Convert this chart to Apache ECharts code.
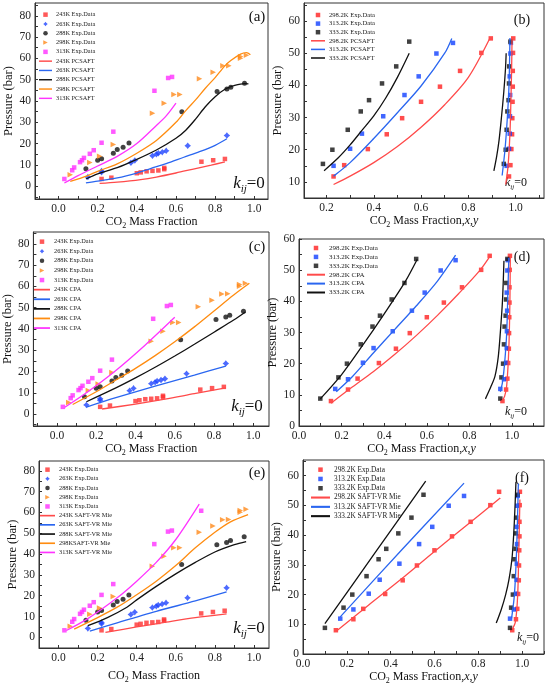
<!DOCTYPE html>
<html>
<head>
<meta charset="utf-8">
<script src="https://cdn.jsdelivr.net/npm/echarts@6/dist/echarts.min.js"></script>
<style>
html, body { margin: 0; padding: 0; background: #fff; }
#main { width: 550px; height: 686px; }
</style>
</head>
<body>
<div id="main"></div>
<script>
// ---------- ticks ----------
const fracLabels = [0.0, 0.2, 0.4, 0.6, 0.8, 1.0];
const fracLabelsB = [0.2, 0.4, 0.6, 0.8, 1.0];
const fracTicks = [-0.1, 0.0, 0.1, 0.2, 0.3, 0.4, 0.5, 0.6, 0.7, 0.8, 0.9, 1.0];
const fracTicksR = [0.0, 0.1, 0.2, 0.3, 0.4, 0.5, 0.6, 0.7, 0.8, 0.9, 1.0, 1.1];
const presLabels80 = [0, 10, 20, 30, 40, 50, 60, 70, 80];
const presTicks80 = [-5, 0, 5, 10, 15, 20, 25, 30, 35, 40, 45, 50, 55, 60, 65, 70, 75, 80, 85];
const presLabels60 = [0, 10, 20, 30, 40, 50, 60];
const presLabelsB = [10, 20, 30, 40, 50, 60];
const presTicks60 = [0, 5, 10, 15, 20, 25, 30, 35, 40, 45, 50, 55, 60, 65];

// ---------- left column: experimental data (x = CO2 mass fraction, P bar) ----------
const exp243 = [[0.22, 3.4], [0.27, 4.0], [0.40, 6.1], [0.42, 6.5], [0.45, 7.0], [0.48, 7.2], [0.51, 7.4], [0.54, 8.0], [0.54, 8.6], [0.73, 11.5], [0.79, 12.2], [0.85, 12.8]];
const exp263 = [[0.15, 4.3], [0.22, 6.5], [0.22, 7.2], [0.37, 11.0], [0.39, 12.1], [0.48, 14.3], [0.50, 15.0], [0.51, 15.5], [0.53, 16.0], [0.55, 16.6], [0.66, 19.0], [0.86, 23.8]];
const exp288 = [[0.14, 8.2], [0.20, 12.2], [0.22, 12.9], [0.28, 15.5], [0.30, 17.2], [0.33, 18.3], [0.36, 20.3], [0.63, 35.0], [0.81, 44.5], [0.86, 45.6], [0.88, 46.5], [0.95, 48.3]];
const exp298 = [[0.06, 5.4], [0.16, 11.1], [0.21, 14.1], [0.28, 19.6], [0.48, 34.2], [0.54, 39.0], [0.59, 43.1], [0.62, 43.0], [0.72, 50.5], [0.79, 53.5], [0.84, 56.5], [0.87, 56.6], [0.93, 60.1], [0.93, 60.9], [0.96, 61.5]];
const exp313 = [[0.03, 3.4], [0.07, 7.5], [0.08, 8.8], [0.11, 11.3], [0.12, 12.2], [0.13, 13.3], [0.16, 15.2], [0.18, 16.9], [0.22, 20.4], [0.28, 25.6], [0.49, 44.8], [0.56, 50.8], [0.58, 51.3]];
const exp313extra = [[0.73, 60.8]];

// PC-SAFT (a)
const pc243 = [[0.21, 1.3], [0.3, 1.9], [0.42, 3.1], [0.5, 4.3], [0.6, 6.2], [0.7, 8.3], [0.78, 9.9], [0.85, 11.4]];
const pc263 = [[0.14, 1.6], [0.2, 2.4], [0.3, 3.9], [0.4, 6.2], [0.47, 8.3], [0.55, 10.6], [0.64, 13.6], [0.72, 16.2], [0.8, 19.2], [0.86, 22.3]];
const pc288 = [[0.14, 3.4], [0.2, 5.8], [0.3, 8.7], [0.4, 12.6], [0.5, 17.0], [0.6, 22.5], [0.65, 26.3], [0.7, 31.5], [0.75, 37.3], [0.8, 42.0], [0.85, 45.5], [0.9, 47.3], [0.95, 48.2], [0.97, 48.0]];
const pc298 = [[0.06, 2.3], [0.15, 5.0], [0.2, 7.0], [0.3, 10.5], [0.4, 15.5], [0.5, 21.5], [0.6, 30.0], [0.65, 35.5], [0.7, 40.5], [0.75, 46.0], [0.8, 51.0], [0.85, 56.5], [0.88, 59.0], [0.93, 62.0], [0.96, 62.7], [0.98, 61.7]];
const pc313 = [[0.03, 1.5], [0.1, 5.0], [0.2, 9.5], [0.3, 14.0], [0.4, 20.0], [0.5, 28.5], [0.55, 33.0], [0.6, 39.0]];

// CPA (c)
const cpa243 = [[0.23, 2.4], [0.4, 4.7], [0.55, 7.0], [0.7, 9.6], [0.86, 12.3]];
const cpa263 = [[0.15, 3.3], [0.3, 7.7], [0.5, 13.2], [0.7, 18.3], [0.86, 22.6]];
const cpa288 = [[0.15, 5.8], [0.3, 12.3], [0.4, 17.0], [0.5, 22.0], [0.6, 27.3], [0.7, 32.8], [0.8, 38.5], [0.9, 44.2], [0.96, 48.0]];
const cpa298 = [[0.08, 4.5], [0.2, 10.5], [0.3, 16.0], [0.4, 21.5], [0.5, 27.5], [0.6, 34.0], [0.7, 41.0], [0.8, 48.5], [0.9, 56.0], [0.98, 61.5]];
const cpa313 = [[0.04, 3.2], [0.15, 10.0], [0.3, 20.5], [0.45, 32.5], [0.6, 45.5]];

// SAFT-VR Mie (e)
const sv243 = [[0.24, 2.4], [0.4, 5.0], [0.55, 7.3], [0.7, 9.5], [0.86, 11.3]];
const sv263 = [[0.16, 3.0], [0.3, 7.0], [0.5, 12.5], [0.7, 17.5], [0.86, 21.8]];
const sv288 = [[0.15, 5.6], [0.25, 9.5], [0.35, 14.5], [0.4, 18.0], [0.5, 24.5], [0.6, 30.5], [0.7, 36.0], [0.8, 41.0], [0.9, 44.5], [0.96, 46.0]];
const sv298 = [[0.08, 4.0], [0.2, 9.5], [0.3, 14.5], [0.4, 20.5], [0.5, 27.0], [0.6, 34.5], [0.7, 43.0], [0.8, 50.5], [0.88, 55.5], [0.97, 59.0]];
const sv313 = [[0.04, 3.3], [0.15, 9.0], [0.3, 19.0], [0.4, 27.0], [0.5, 36.0], [0.6, 47.0], [0.72, 64.0]];

// ---------- right column: experimental data (liquid x, vapour y) ----------
const liq298 = [[0.15, 8.0], [0.23, 11.7], [0.275, 15.2], [0.375, 20.2], [0.455, 24.8], [0.52, 29.8], [0.60, 34.9], [0.68, 39.6], [0.765, 44.5], [0.855, 50.1], [0.895, 54.6]];
const vap298 = [[0.955, 8.0], [0.972, 11.7], [0.978, 15.2], [0.982, 20.2], [0.985, 24.8], [0.986, 29.8], [0.987, 34.9], [0.988, 39.6], [0.988, 44.5], [0.989, 50.1], [0.99, 54.6]];
const liq313 = [[0.17, 11.9], [0.23, 15.0], [0.30, 20.3], [0.35, 25.0], [0.44, 30.4], [0.53, 37.0], [0.59, 42.8], [0.665, 49.9], [0.735, 53.2]];
const vap313 = [[0.945, 11.9], [0.962, 15.0], [0.972, 20.3], [0.975, 25.0], [0.976, 30.4], [0.977, 37.0], [0.975, 42.8], [0.978, 49.9], [0.98, 53.2]];
const liq333 = [[0.10, 8.8], [0.185, 15.6], [0.225, 20.0], [0.29, 26.2], [0.345, 31.9], [0.38, 35.4], [0.435, 40.6], [0.495, 45.9], [0.55, 53.6]];
const vap333 = [[0.945, 8.8], [0.95, 15.6], [0.958, 20.0], [0.962, 26.2], [0.965, 31.9], [0.97, 35.4], [0.972, 40.6], [0.973, 45.9], [0.978, 53.6]];

// PC-SAFT (b)
const pcL298 = [[0.23, 9.2], [0.3, 11.8], [0.4, 16.0], [0.5, 21.0], [0.6, 27.0], [0.7, 34.0], [0.8, 42.5], [0.89, 54.5]];
const pcV298 = [[0.958, 9.2], [0.968, 15.0], [0.976, 25.0], [0.98, 35.0], [0.983, 45.0], [0.985, 55.0]];
const pcL313 = [[0.23, 11.8], [0.3, 16.0], [0.4, 23.5], [0.5, 31.5], [0.6, 39.8], [0.7, 50.0], [0.73, 54.6]];
const pcV313 = [[0.943, 12.0], [0.955, 20.0], [0.965, 30.0], [0.972, 40.0], [0.976, 54.7]];
const pcL333 = [[0.19, 13.5], [0.25, 17.5], [0.3, 21.5], [0.35, 26.0], [0.4, 30.5], [0.45, 36.0], [0.5, 42.5], [0.55, 50.0]];
const pcV333 = [[0.908, 13.4], [0.92, 18.0], [0.93, 23.0], [0.94, 30.0], [0.95, 38.0], [0.957, 45.0], [0.96, 50.0]];

// CPA (d)
const cpaL298 = [[0.15, 7.3], [0.25, 12.5], [0.35, 17.5], [0.45, 23.0], [0.55, 29.0], [0.65, 35.5], [0.75, 42.5], [0.85, 50.0], [0.9, 54.8]];
const cpaV298 = [[0.95, 7.8], [0.965, 9.5], [0.975, 13.0], [0.985, 25.0], [0.99, 40.0], [0.992, 55.0]];
const cpaL313 = [[0.175, 11.0], [0.25, 15.8], [0.35, 23.5], [0.45, 31.0], [0.55, 38.5], [0.65, 46.5], [0.735, 54.8]];
const cpaV313 = [[0.945, 11.0], [0.955, 14.0], [0.965, 20.0], [0.975, 30.0], [0.98, 42.0], [0.985, 54.0]];
const cpaL333 = [[0.1, 8.7], [0.2, 16.5], [0.3, 26.0], [0.4, 36.0], [0.5, 46.5], [0.555, 53.5]];
const cpaV333 = [[0.875, 8.7], [0.9, 12.5], [0.92, 16.0], [0.935, 22.0], [0.945, 30.0], [0.955, 40.0], [0.962, 53.0]];

// SAFT-VR Mie (f)
const svL298 = [[0.15, 7.6], [0.3, 16.5], [0.45, 25.3], [0.6, 34.5], [0.75, 43.5], [0.9, 52.5]];
const svV298 = [[0.955, 8.3], [0.97, 11.0], [0.98, 20.0], [0.985, 35.0], [0.99, 52.0]];
const svL313 = [[0.17, 12.5], [0.45, 35.0], [0.735, 57.5]];
const svV313 = [[0.952, 12.0], [0.965, 20.0], [0.975, 35.0], [0.983, 57.4]];
const svL333 = [[0.1, 10.2], [0.33, 34.2], [0.56, 58.2]];
const svV333 = [[0.882, 10.4], [0.905, 15.0], [0.925, 20.0], [0.94, 25.0], [0.955, 33.0], [0.965, 45.0], [0.972, 58.0]];

const FONT = '"Liberation Serif", "Times New Roman", serif';
const C = { red: '#ff3030', blue: '#1f45ff', black: '#111111', orange: '#ff8a1a', pink: '#ff30ff' };
const L = { red: '#ff4a4a', blue: '#2a66f0', black: '#111111', orange: '#ff8c10', pink: '#ff33ff' };
// 标记形状
const SQ = 'path://M0,0h10v10h-10z';
const STAR = 'path://M5,0L7.2,2.8L10,5L7.2,7.2L5,10L2.8,7.2L0,5L2.8,2.8z';
const TRI = 'path://M0,0L10,5L0,10z';
const BAR = 'path://M0,0h10v1.1h-10z';

// 每个子图的位置
const panels = [
	{ left: 35, top: 3, width: 233, height: 196, xmin: -0.12, xmax: 1.07, ymin: -6, ymax: 86, xl: fracLabels, xt: fracTicks, yl: presLabels80, yt: presTicks80, xGap: 13, yGap: 17 },
	{ left: 304, top: 3, width: 240, height: 195, xmin: 0.105, xmax: 1.12, ymin: 5, ymax: 65.6, xl: fracLabelsB, xt: fracTicksR, yl: presLabelsB, yt: presTicks60, xGap: 13, yGap: 15 },
	{ left: 32, top: 232, width: 237, height: 194, xmin: -0.12, xmax: 1.08, ymin: -5.6, ymax: 85.6, xl: fracLabels, xt: fracTicks, yl: presLabels80, yt: presTicks80, xGap: 13, yGap: 17 },
	{ left: 299, top: 239, width: 245, height: 187, xmin: 0, xmax: 1.15, ymin: 0, ymax: 60, xl: fracLabels, xt: fracTicksR, yl: presLabels60, yt: presTicks60, xGap: 13, yGap: 14 },
	{ left: 39, top: 461, width: 230, height: 187, xmin: -0.1, xmax: 1.077, ymin: -5.1, ymax: 84.7, xl: fracLabels, xt: fracTicks, yl: presLabels80, yt: presTicks80, xGap: 20, yGap: 17 },
	{ left: 303, top: 460, width: 241, height: 194, xmin: 0, xmax: 1.1, ymin: 0, ymax: 65.3, xl: fracLabels, xt: fracTicksR, yl: presLabels60, yt: presTicks60, xGap: 14, yGap: 16 },
];

function sc(name, data, gi, color, symbol, size) {
	return {
		type: 'scatter', name: name, data: data, xAxisIndex: gi, yAxisIndex: gi,
		symbol: symbol, symbolSize: size,
		itemStyle: { color: color }, z: 3, silent: true,
	};
}
function ln(name, data, gi, color) {
	return {
		type: 'line', name: name, data: data, xAxisIndex: gi, yAxisIndex: gi,
		symbol: 'none', smooth: 0.3, itemStyle: { color: color },
		lineStyle: { color: color, width: 1.3 }, z: 4, silent: true,
	};
}

const series = [];
const leftModels = [
	{ gi: 0, tag: 'PCSAFT', d: [pc243, pc263, pc288, pc298, pc313], extra: [] },
	{ gi: 2, tag: 'CPA', d: [cpa243, cpa263, cpa288, cpa298, cpa313], extra: [] },
	{ gi: 4, tag: 'SAFT-VR Mie', d: [sv243, sv263, sv288, sv298, sv313], extra: exp313extra },
];
const leftExpNames = ['243K Exp.Data', '263K Exp.Data', '288K Exp.Data', '298K Exp.Data', '313K Exp.Data'];
const leftExpIcons = [SQ, STAR, 'circle', TRI, SQ];
const leftLineNames = [];
leftModels.forEach((m) => {
	series.push(sc(leftExpNames[0], exp243, m.gi, C.red, SQ, 4.5));
	series.push(sc(leftExpNames[1], exp263, m.gi, C.blue, STAR, 6.5));
	series.push(sc(leftExpNames[2], exp288, m.gi, C.black, 'circle', 5));
	series.push(sc(leftExpNames[3], exp298, m.gi, C.orange, TRI, 5.5));
	series.push(sc(leftExpNames[4], exp313.concat(m.extra), m.gi, C.pink, SQ, 4.5));
	const names = ['243K ' + m.tag, '263K ' + m.tag, '288K ' + m.tag,
		(m.tag === 'SAFT-VR Mie' ? '298K' : '298K ') + m.tag, '313K ' + m.tag];
	const cols = [L.red, L.blue, L.black, L.orange, L.pink];
	names.forEach((n, i) => series.push(ln(n, m.d[i], m.gi, cols[i])));
	leftLineNames.push(names);
});

const rightModels = [
	{ gi: 1, tag: 'PCSAFT', d: [[pcL298, pcV298], [pcL313, pcV313], [pcL333, pcV333]], cut: 1 },
	{ gi: 3, tag: 'CPA', d: [[cpaL298, cpaV298], [cpaL313, cpaV313], [cpaL333, cpaV333]], cut: 0 },
	{ gi: 5, tag: 'SAFT-VR Mie', d: [[svL298, svV298], [svL313, svV313], [svL333, svV333]], cut: 0 },
];
const rightExpNames = ['298.2K Exp.Data', '313.2K Exp.Data', '333.2K Exp.Data'];
const rightLineNames = [];
rightModels.forEach((m) => {
	const k = m.cut;
	series.push(sc(rightExpNames[0], liq298.slice(k).concat(vap298.slice(k)), m.gi, '#ff2020', SQ, 4.5));
	series.push(sc(rightExpNames[1], liq313.slice(k).concat(vap313.slice(k)), m.gi, '#1040ff', SQ, 4.5));
	series.push(sc(rightExpNames[2], liq333.slice(k).concat(vap333.slice(k)), m.gi, '#111', SQ, 4.5));
	const names = ['298.2K ' + m.tag, '313.2K ' + m.tag, '333.2K ' + m.tag];
	const cols = [L.red, L.blue, L.black];
	names.forEach((n, i) => {
		series.push(ln(n, m.d[i][0], m.gi, cols[i]));
		series.push(ln(n, m.d[i][1], m.gi, cols[i]));
	});
	rightLineNames.push(names);
});

function legend(left, top, expNames, expIcons, lineNames, fs, gap, w) {
	const data = expNames.map((n, i) => ({ name: n, icon: expIcons[i] }))
		.concat(lineNames.map((n) => ({ name: n, icon: BAR })));
	return {
		orient: 'vertical', left: left, top: top, padding: 0,
		itemWidth: w, itemHeight: 4.5, itemGap: gap, selectedMode: false, symbolKeepAspect: true,
		textStyle: { fontFamily: FONT, fontSize: fs, color: '#222', lineHeight: fs, padding: [0, 0, 0, -1] },
		data: data,
	};
}

const rIcons = [SQ, SQ, SQ];
const legends = [
	legend(39, 11.5, leftExpNames, leftExpIcons, leftLineNames[0], 6.3, 3.0, 13),
	legend(311, 11.5, rightExpNames, rIcons, rightLineNames[0], 6.6, 1.6, 14),
	legend(34, 238.5, leftExpNames, leftExpIcons, leftLineNames[1], 6.3, 3.3, 16),
	legend(307, 244.5, rightExpNames, rIcons, rightLineNames[1], 7, 1.9, 18),
	legend(40, 466.5, leftExpNames, leftExpIcons, leftLineNames[2], 6.3, 2.9, 15),
	legend(311, 466, rightExpNames, rIcons, rightLineNames[2], 7.3, 2.0, 19),
];

const xNameLeft = '{a|CO}{s|2}{a| Mass Fraction}';
const xNameRight = '{a|CO}{s|2}{a| Mass Fraction,}{i|x}{a|,}{i|y}';
const nameRich = {
	a: { fontFamily: FONT, fontSize: 12, lineHeight: 16, color: '#111' },
	i: { fontFamily: FONT, fontSize: 12, lineHeight: 16, color: '#111', fontStyle: 'italic' },
	s: { fontFamily: FONT, fontSize: 8, lineHeight: 10, color: '#111', verticalAlign: 'bottom' },
};

const grids = [], xAxes = [], yAxes = [];
panels.forEach((p, i) => {
	grids.push({ left: p.left, top: p.top, width: p.width, height: p.height, show: true, borderColor: '#333', borderWidth: 1, containLabel: false });
	xAxes.push({
		type: 'value', gridIndex: i, min: p.xmin, max: p.xmax,
		name: i % 2 === 0 ? xNameLeft : xNameRight, nameLocation: 'middle', nameGap: p.xGap,
		nameTextStyle: { rich: nameRich },
		axisLine: { show: true, onZero: false, lineStyle: { color: '#333', width: 1 } },
		axisTick: { show: true, inside: true, length: 3, customValues: p.xt, lineStyle: { color: '#333' } },
		axisLabel: { customValues: p.xl, margin: 4, fontFamily: FONT, fontSize: 11.5, color: '#222', formatter: (v) => v.toFixed(1) },
		splitLine: { show: false },
	});
	yAxes.push({
		type: 'value', gridIndex: i, min: p.ymin, max: p.ymax,
		name: 'Pressure (bar)', nameLocation: 'middle', nameGap: p.yGap, nameRotate: 90,
		nameTextStyle: { fontFamily: FONT, fontSize: 12.5, color: '#111' },
		axisLine: { show: true, onZero: false, lineStyle: { color: '#333', width: 1 } },
		axisTick: { show: true, inside: true, length: 3, customValues: p.yt, lineStyle: { color: '#333' } },
		axisLabel: { customValues: p.yl, margin: 4, fontFamily: FONT, fontSize: 11.5, color: '#222' },
		splitLine: { show: false },
	});
});

// 子图编号和 kij=0
const tags = [['(a)', 257, 17, 15], ['(b)', 522, 20, 14], ['(c)', 257, 247, 15], ['(d)', 522, 257, 14], ['(e)', 257, 473, 15], ['(f)', 522, 478, 14]];
const kij = [[249, 184, 17], [516, 183, 12], [247, 407, 17], [516, 412, 12], [249, 629, 17], [528, 638, 12]];
const graphic = [];
tags.forEach((t) => {
	graphic.push({ type: 'text', x: t[1], y: t[2], silent: true,
		style: { text: t[0], fontFamily: FONT, fontSize: t[3], fill: '#111', align: 'center', verticalAlign: 'middle' } });
});
kij.forEach((k) => {
	const f = k[2];
	graphic.push({ type: 'text', x: k[0], y: k[1], silent: true,
		style: {
			text: '{k|k}{s|ij}{n|=0}', align: 'center', verticalAlign: 'middle',
			rich: {
				k: { fontFamily: FONT, fontSize: f, fontStyle: 'italic', lineHeight: f + 4, verticalAlign: 'middle', fill: '#111' },
				s: { fontFamily: FONT, fontSize: Math.round(f * 0.62), fontStyle: 'italic', lineHeight: Math.round(f * 0.62), verticalAlign: 'bottom', fill: '#111' },
				n: { fontFamily: FONT, fontSize: f, lineHeight: f + 4, verticalAlign: 'middle', fill: '#111' },
			},
		} });
});

const chart = echarts.init(document.getElementById('main'), null, { renderer: 'canvas' });
chart.setOption({
	backgroundColor: '#fff',
	animation: false,
	grid: grids,
	xAxis: xAxes,
	yAxis: yAxes,
	legend: legends,
	graphic: graphic,
	series: series,
});
</script>
</body>
</html>
